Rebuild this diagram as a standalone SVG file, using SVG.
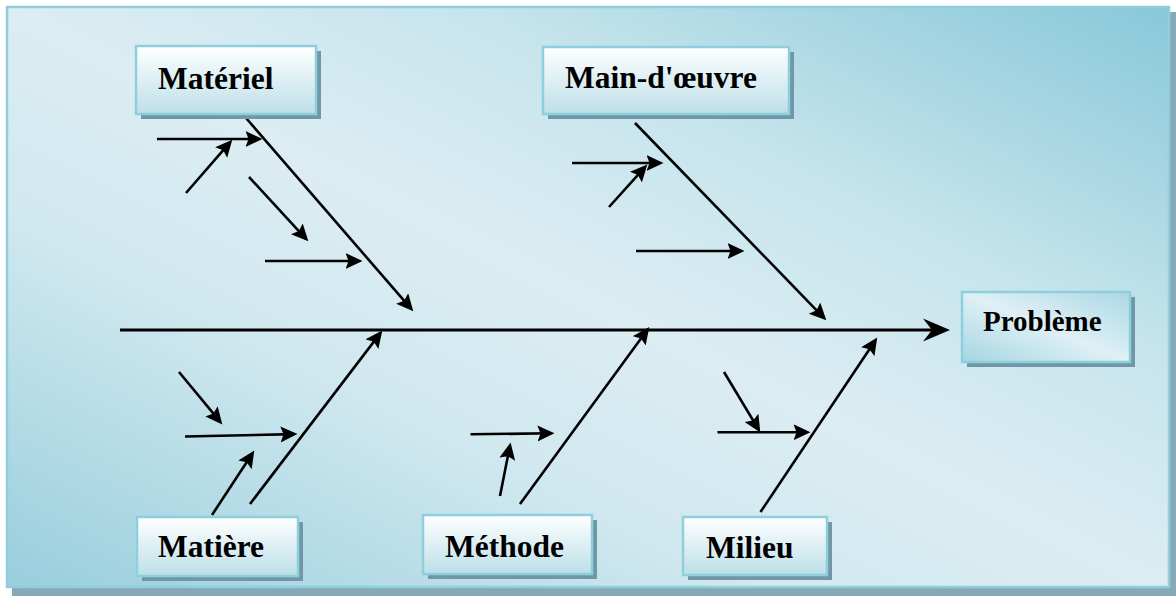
<svg xmlns="http://www.w3.org/2000/svg" width="1176" height="596" viewBox="0 0 1176 596">
<style>
.lbl{font-family:"Liberation Serif","Times New Roman",serif;font-weight:bold;font-size:31.5px;fill:#000}
.box{fill:url(#boxg);stroke:#8ecfdd;stroke-width:2.5}
.shd{fill:#6f97a5}
.ln{stroke:#000;stroke-width:2.6;fill:none;marker-end:url(#ah)}
</style>
<defs>
<linearGradient id="bg" gradientUnits="userSpaceOnUse" x1="820" y1="-167" x2="356" y2="761">
<stop offset="0" stop-color="#88c8d9"/>
<stop offset="0.3" stop-color="#c6e4ec"/>
<stop offset="0.5" stop-color="#dcedf3"/>
<stop offset="0.68" stop-color="#d0e8ef"/>
<stop offset="1" stop-color="#98cedd"/>
</linearGradient>
<linearGradient id="boxg" x1="0" y1="0" x2="0" y2="1">
<stop offset="0" stop-color="#ffffff"/>
<stop offset="1" stop-color="#bcdfe8"/>
</linearGradient>
<linearGradient id="probg" x1="1" y1="0" x2="0" y2="1">
<stop offset="0" stop-color="#a9d8e4"/>
<stop offset="0.5" stop-color="#dff0f5"/>
<stop offset="1" stop-color="#a3d5e2"/>
</linearGradient>
<marker id="ah" markerUnits="userSpaceOnUse" markerWidth="18" markerHeight="17" refX="13.5" refY="8" orient="auto">
<path d="M0,0 L17,8 L0,16 L3,8 z" fill="#000"/>
</marker>
</defs>

<g id="background">
<rect x="12" y="12" width="1164" height="584" fill="#86a9b5"/>
<rect x="7" y="7" width="1162" height="580" fill="url(#bg)" stroke="#8fcfdd" stroke-width="2.5"/>
</g>

<g id="connectors">
<line x1="120" y1="330" x2="936" y2="330" stroke="#000" stroke-width="3"/>
<polygon points="950,330 923,318.5 932,330 923,341.5" fill="#000"/>

<line class="ln" x1="246" y1="118" x2="411" y2="308.7"/>
<line class="ln" x1="157" y1="139" x2="259" y2="139"/>
<line class="ln" x1="186" y1="193" x2="230" y2="142.3"/>
<line class="ln" x1="249" y1="177" x2="306" y2="238.8"/>
<line class="ln" x1="265" y1="261" x2="359" y2="261"/>

<line class="ln" x1="635" y1="123" x2="823.9" y2="317.8"/>
<line class="ln" x1="572" y1="163" x2="660" y2="163"/>
<line class="ln" x1="609" y1="207" x2="645" y2="167.2"/>
<line class="ln" x1="636" y1="251" x2="741" y2="251"/>

<line class="ln" x1="250" y1="504" x2="380.2" y2="333.4"/>
<line class="ln" x1="179" y1="372" x2="220.1" y2="421.7"/>
<line class="ln" x1="185" y1="436.5" x2="294" y2="434.1"/>
<line class="ln" x1="212" y1="515" x2="252.4" y2="453.5"/>

<line class="ln" x1="520" y1="504" x2="647.2" y2="329.9"/>
<line class="ln" x1="470.5" y1="434.3" x2="551" y2="433.3"/>
<line class="ln" x1="500" y1="496" x2="509.9" y2="445.9"/>

<line class="ln" x1="760.5" y1="512" x2="875.3" y2="340.5"/>
<line class="ln" x1="724" y1="372" x2="758.5" y2="429.4"/>
<line class="ln" x1="717.5" y1="432.3" x2="807" y2="432.3"/>
</g>

<g id="materiel">
<rect class="shd" x="141" y="51" width="180" height="68"/>
<rect class="box" x="136" y="46" width="180" height="68"/>
<text class="lbl" x="158" y="89">Matériel</text>
</g>

<g id="main-doeuvre">
<rect class="shd" x="548" y="52" width="246" height="67"/>
<rect class="box" x="543" y="47" width="246" height="67"/>
<text class="lbl" x="565" y="88">Main-d'œuvre</text>
</g>

<g id="probleme">
<rect class="shd" x="967" y="297" width="168" height="70"/>
<rect x="962" y="292" width="168" height="70" fill="url(#probg)" stroke="#8ecfdd" stroke-width="2.5"/>
<text class="lbl" x="983" y="331" style="font-size:29px">Problème</text>
</g>

<g id="matiere">
<rect class="shd" x="142" y="522" width="161" height="59"/>
<rect class="box" x="137" y="517" width="161" height="59"/>
<text class="lbl" x="158" y="557">Matière</text>
</g>

<g id="methode">
<rect class="shd" x="428" y="520" width="169" height="59"/>
<rect class="box" x="423" y="515" width="169" height="59"/>
<text class="lbl" x="445" y="557">Méthode</text>
</g>

<g id="milieu">
<rect class="shd" x="688" y="522" width="144" height="58"/>
<rect class="box" x="683" y="517" width="144" height="58"/>
<text class="lbl" x="706" y="558">Milieu</text>
</g>
</svg>
